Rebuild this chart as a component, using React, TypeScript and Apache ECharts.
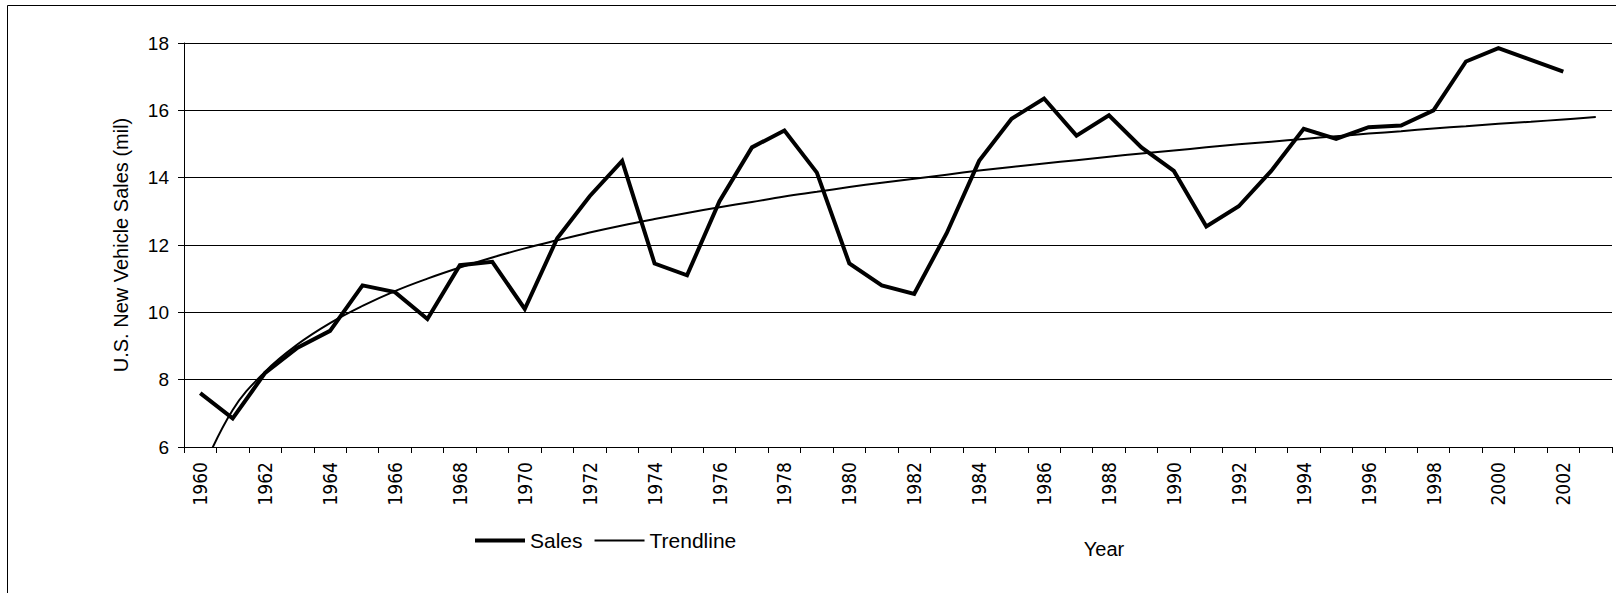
import React, { useEffect, useRef } from "react";
import * as echarts from "echarts";

const years: string[] = [
  "1960", "1961", "1962", "1963", "1964", "1965", "1966", "1967", "1968", "1969",
  "1970", "1971", "1972", "1973", "1974", "1975", "1976", "1977", "1978", "1979",
  "1980", "1981", "1982", "1983", "1984", "1985", "1986", "1987", "1988", "1989",
  "1990", "1991", "1992", "1993", "1994", "1995", "1996", "1997", "1998", "1999",
  "2000", "2001", "2002", "2003",
];

const sales: (number | null)[] = [
  7.6, 6.85, 8.2, 8.95, 9.45, 10.8, 10.6, 9.8, 11.4, 11.5,
  10.1, 12.2, 13.45, 14.5, 11.45, 11.1, 13.3, 14.9, 15.4, 14.15,
  11.45, 10.8, 10.55, 12.35, 14.5, 15.75, 16.35, 15.25, 15.85, 14.9,
  14.2, 12.55, 13.15, 14.2, 15.45, 15.15, 15.5, 15.55, 16.0, 17.45,
  17.85, 17.5, 17.15, null,
];

const trendline: number[] = [
  5.15, 7.1, 8.24, 9.05, 9.68, 10.19, 10.63, 11.0, 11.33, 11.63,
  11.9, 12.14, 12.37, 12.58, 12.77, 12.95, 13.12, 13.28, 13.44, 13.58,
  13.72, 13.85, 13.97, 14.09, 14.21, 14.32, 14.42, 14.52, 14.62, 14.72,
  14.81, 14.9, 14.99, 15.07, 15.15, 15.23, 15.31, 15.38, 15.46, 15.53,
  15.6, 15.66, 15.73, 15.8,
];

const yTicks = { min: 6, max: 18, interval: 2 };

const FONT = "'Liberation Sans', Arial, sans-serif";
const NARROW = "'Liberation Sans Narrow', 'DejaVu Sans Condensed', 'Liberation Sans', Arial, sans-serif";

export default function App() {
  const ref = useRef<HTMLDivElement>(null);

  useEffect(() => {
    document.body.style.margin = "0";
    if (!ref.current) return;
    const chart = echarts.init(ref.current, undefined, { renderer: "svg" });
    chart.setOption({
      animation: false,
      backgroundColor: "#fff",
      grid: { left: 184, right: 4, top: 43, bottom: 146, containLabel: false },
      legend: {
        left: 475,
        top: 530,
        padding: 0,
        itemWidth: 50,
        itemHeight: 4,
        itemGap: 12,
        symbolKeepAspect: true,
        itemStyle: { borderWidth: 0 },
        textStyle: { fontFamily: FONT, fontSize: 21, color: "#000" },
        data: [
          { name: "Sales", icon: "rect" },
          { name: "Trendline", icon: "path://M0,0 H50 V2 H0 Z" },
        ],
      },
      graphic: [
        {
          type: "rect",
          shape: { x: 7.5, y: 5.5, width: 1700, height: 700 },
          style: { fill: "none", stroke: "#000", lineWidth: 1 },
          silent: true,
        },
        {
          type: "text",
          x: 1104,
          y: 549,
          style: {
            text: "Year",
            fontFamily: FONT,
            fontSize: 20,
            fill: "#000",
            align: "center",
            verticalAlign: "middle",
          },
        },
      ],
      xAxis: {
        type: "category",
        data: years,
        boundaryGap: true,
        axisLine: { show: true, lineStyle: { color: "#000", width: 1 } },
        axisTick: { show: true, interval: 0, length: 6, lineStyle: { color: "#000" } },
        axisLabel: {
          interval: 1,
          rotate: 90,
          margin: 15,
          fontFamily: NARROW,
          fontSize: 19,
          color: "#000",
        },
        splitLine: { show: false },
      },
      yAxis: {
        type: "value",
        min: yTicks.min,
        max: yTicks.max,
        interval: yTicks.interval,
        name: "U.S. New Vehicle Sales (mil)",
        nameLocation: "middle",
        nameGap: 53,
        nameTextStyle: { fontFamily: FONT, fontSize: 20, color: "#000" },
        axisLine: { show: true, lineStyle: { color: "#000", width: 1 } },
        axisTick: { show: true, length: 6, lineStyle: { color: "#000" } },
        axisLabel: { margin: 15, fontFamily: FONT, fontSize: 19, color: "#000" },
        splitLine: { show: true, lineStyle: { color: "#000", width: 1 } },
      },
      series: [
        {
          name: "Sales",
          type: "line",
          data: sales,
          showSymbol: false,
          symbol: "none",
          clip: true,
          lineStyle: { color: "#000", width: 4, join: "miter" },
          itemStyle: { color: "#000" },
          z: 3,
        },
        {
          name: "Trendline",
          type: "line",
          data: trendline,
          showSymbol: false,
          symbol: "none",
          smooth: 0.4,
          clip: true,
          lineStyle: { color: "#000", width: 2 },
          itemStyle: { color: "#000" },
          z: 2,
        },
      ],
    });
    return () => chart.dispose();
  }, []);

  return <div ref={ref} style={{ width: 1616, height: 593 }} />;
}
